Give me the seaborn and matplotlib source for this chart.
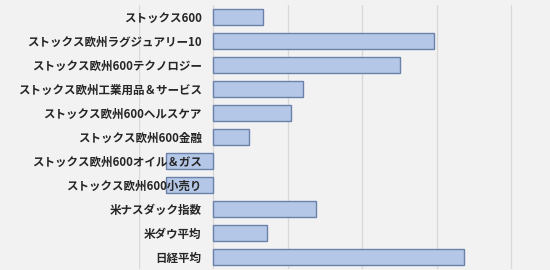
import matplotlib
matplotlib.use("Agg")
import matplotlib.pyplot as plt
import seaborn as sns
import pandas as pd

categories = [
    "ストックス600",
    "ストックス欧州ラグジュアリー10",
    "ストックス欧州600テクノロジー",
    "ストックス欧州工業用品＆サービス",
    "ストックス欧州600ヘルスケア",
    "ストックス欧州600金融",
    "ストックス欧州600オイル＆ガス",
    "ストックス欧州600小売り",
    "米ナスダック指数",
    "米ダウ平均",
    "日経平均",
]
values = [3.3, 14.8, 12.5, 6.0, 5.2, 2.4, -3.2, -3.2, 6.9, 3.6, 16.8]

df = pd.DataFrame({"name": categories, "value": values})

sns.set_theme(style="white")
plt.rcParams["font.family"] = ["Noto Sans CJK JP", "DejaVu Sans"]

fig = plt.figure(figsize=(5.5, 2.7), dpi=100, facecolor="#F2F2F2")
ax = fig.add_axes([139 / 550, 1 - 269 / 270, (538 - 139) / 550, 264 / 270])
ax.set_facecolor("#F2F2F2")

sns.barplot(data=df, x="value", y="name", orient="h", ax=ax,
            color="#B4C7E7", edgecolor="#6B81AA", linewidth=1.0,
            width=0.68, saturation=1)

ax.set_xlim(-5, 21.8)
ax.set_xticks([-5, 0, 5, 10, 15, 20])
ax.set_xticklabels([])
ax.grid(axis="x", color="#D9D9D9", linewidth=1.0)
ax.set_axisbelow(True)
ax.yaxis.set_zorder(5)
ax.set_xlabel("")
ax.set_ylabel("")
for s in ["top", "right", "bottom", "left"]:
    ax.spines[s].set_visible(False)
ax.spines["left"].set_position(("data", 0))
ax.tick_params(axis="y", length=0, pad=8.5, labelsize=8.3)
ax.tick_params(axis="x", length=0)
for t in ax.get_yticklabels():
    t.set_fontweight("bold")
    t.set_color("#262626")

fig.savefig("out.png", dpi=100, facecolor="#F2F2F2")
